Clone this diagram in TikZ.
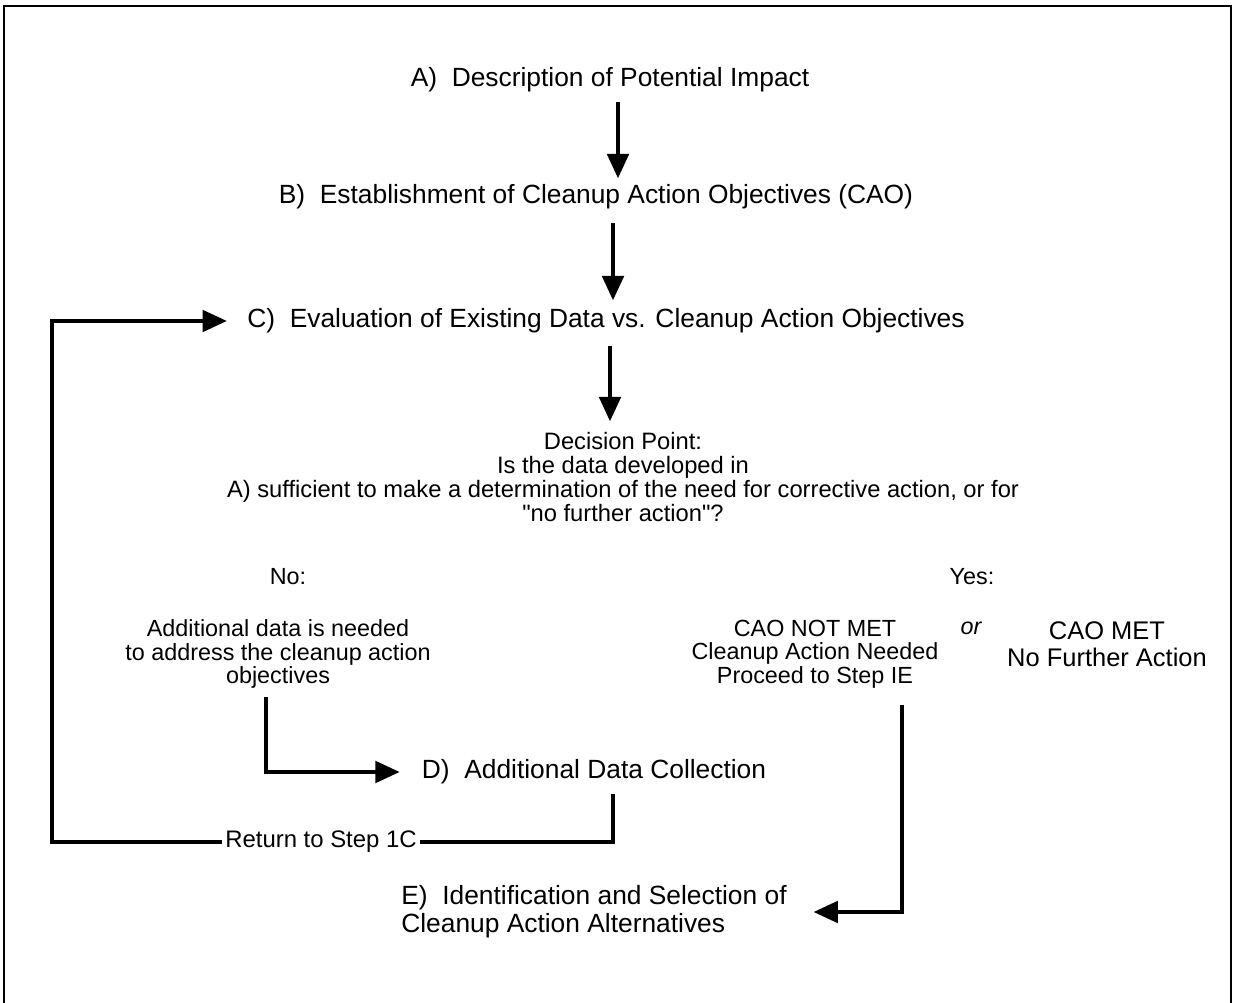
\documentclass[tikz,border=0pt]{standalone}
\usepackage{fontspec}
\setmainfont{Liberation Sans}
\usetikzlibrary{arrows.meta,calc}

\begin{document}
\begin{tikzpicture}[x=0.02cm,y=-0.02cm,
    flow/.style={line width=2.8pt,-{Triangle[length=14pt,width=12pt]}},
    link/.style={line width=2.8pt},
    big/.style={font=\fontsize{15}{15.9}\selectfont},
    mid/.style={font=\fontsize{13.3}{13.5}\selectfont,align=center},
    sml/.style={font=\fontsize{13.5}{13.6}\selectfont,align=center}]
                \useasboundingbox (0,0) rectangle (1235,1003);
                \draw [line width=1.1pt] (4,1003) -- (4,6) -- (1231,6) -- (1231,1003);
                \node [big] (descA) at (610,80) {A)\ \ Description of Potential Impact};
                \node [big] (estB) at (596,197) {B)\ \ Establishment of Cleanup Action Objectives (CAO)};
                \node [big] (evalC) at (606,321) {C)\ \ Evaluation of Existing Data vs. Cleanup Action Objectives};
                \node [sml] (decide) at (623,477) {Decision Point:\\Is the data developed in\\A) sufficient to make a determination of the need for corrective action, or for\\\textquotedbl no further action\textquotedbl?};
                \node [mid] (no) at (288,577) {No:};
                \node [mid] (yes) at (972,577) {Yes:};
                \node [mid] (needD) at (278,654) {Additional data is needed\\to address the cleanup action\\objectives};
                \node [mid] (notmet) at (815,654) {CAO NOT MET\\Cleanup Action Needed\\Proceed to Step IE};
                \node [mid,font=\fontsize{13.3}{13.5}\selectfont\itshape] (orr) at (971,628) {or};
                \node [font=\fontsize{14.5}{15.3}\selectfont,align=center] (met) at (1107,644) {CAO MET\\No Further Action};
                \node [big] (collD) at (594,772) {D)\ \ Additional Data Collection};
                \node [mid,inner xsep=2pt,font=\fontsize{13.6}{13.6}\selectfont] (ret) at (321,842) {Return to Step 1C};
                \node [big,align=left,anchor=west,inner xsep=0pt] (identE) at (401,912) {E)\ \ Identification and Selection of\\Cleanup Action Alternatives};
                \coordinate (loopL) at (52,580);
                \draw [flow] ($(descA.south)+(8,4)$) -- ++(0,76);
                \draw [flow] ($(estB.south)+(17,8)$) -- ++(0,77);
                \draw [flow] ($(evalC.south)+(4,7)$) -- ++(0,75);
                \draw [flow,shorten >=8pt] (ret.west) -| (loopL) |- (evalC.west);
                \draw [flow,shorten >=9pt] ($(needD.south)+(-12,2)$) |- (collD.west);
                \draw [link] ($(collD.south)+(19,4)$) |- (ret.east);
                \draw [flow,shorten >=15pt] ($(notmet.south)+(87,10)$) |- (identE.east);
\end{tikzpicture}
\end{document}
